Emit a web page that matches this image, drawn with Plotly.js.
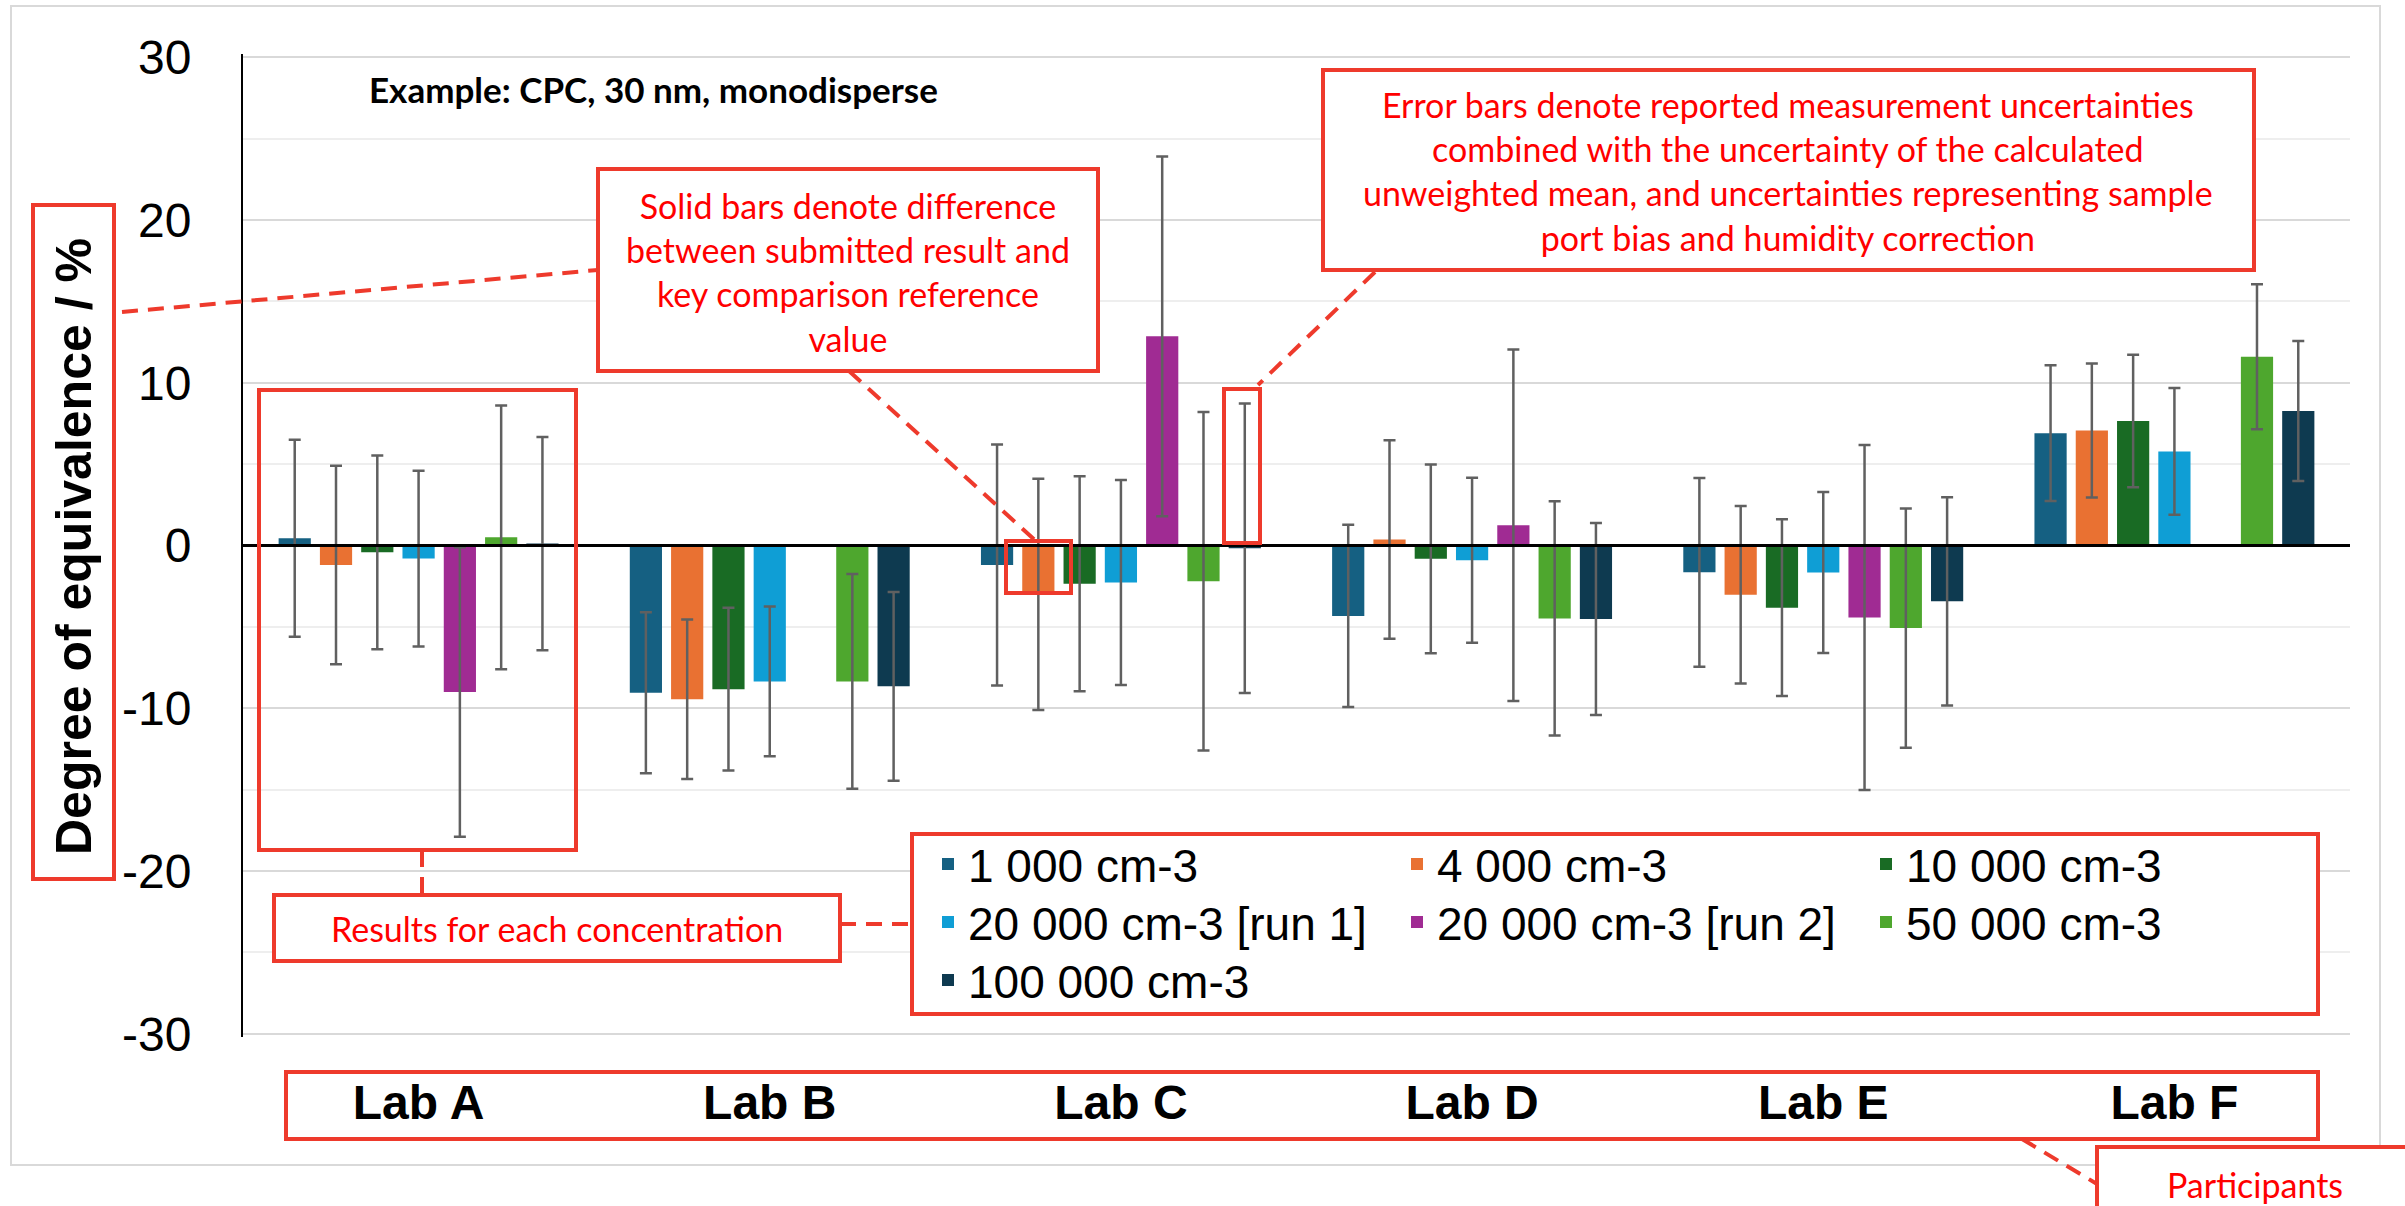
<!DOCTYPE html>
<html><head><meta charset="utf-8">
<script src="https://cdn.plot.ly/plotly-3.0.1.min.js"></script>
<style>html,body{margin:0;padding:0;background:#fff;}#chart{width:2405px;height:1206px;}</style>
</head><body><div id="chart"></div>
<script>
// ---- data ----
const labs = ['Lab A', 'Lab B', 'Lab C', 'Lab D', 'Lab E', 'Lab F'];
const seriesNames = ['1 000 cm-3', '4 000 cm-3', '10 000 cm-3', '20 000 cm-3 [run 1]', '20 000 cm-3 [run 2]', '50 000 cm-3', '100 000 cm-3'];
const seriesColors = ['#156082', '#E97132', '#196B24', '#0F9ED5', '#A02B93', '#4EA72E', '#0E3A50'];
const yTitle = 'Degree of equivalence / %';

const doe1000   = [0.45, -9.05, -1.20, -4.33, -1.65, 6.90];
const doe4000   = [-1.20, -9.45, -3.00, 0.37, -3.03, 7.07];
const doe10000  = [-0.42, -8.83, -2.35, -0.82, -3.82, 7.65];
const doe20000a = [-0.80, -8.35, -2.27, -0.91, -1.66, 5.78];
const doe20000b = [-9.00, null, 12.85, 1.25, -4.43, null];
const doe50000  = [0.50, -8.35, -2.20, -4.48, -5.07, 11.60];
const doe100000 = [0.12, -8.65, -0.17, -4.52, -3.43, 8.26];

const unc1000   = [6.05, 4.95, 7.40, 5.60, 5.80, 4.17];
const unc4000   = [6.10, 4.90, 7.10, 6.10, 5.45, 4.12];
const unc10000  = [5.95, 5.00, 6.60, 5.80, 5.43, 4.07];
const unc20000a = [5.40, 4.60, 6.30, 5.07, 4.95, 3.89];
const unc20000b = [8.90, null, 11.05, 10.80, 10.60, null];
const unc50000  = [8.10, 6.60, 10.40, 7.20, 7.35, 4.46];
const unc100000 = [6.55, 5.80, 8.90, 5.90, 6.40, 4.30];

const yTickVals = [-30, -20, -10, 0, 10, 20, 30];
const yTickText = ['-30', '-20', '-10', '0', '10', '20', '30'];
const yMinorVals = [-25, -15, -5, 5, 15, 25];

const seriesValues = [doe1000, doe4000, doe10000, doe20000a, doe20000b, doe50000, doe100000];
const seriesUnc = [unc1000, unc4000, unc10000, unc20000a, unc20000b, unc50000, unc100000];
const legendIds = ['legend', 'legend', 'legend', 'legend2', 'legend2', 'legend2', 'legend3'];

// ---- geometry helpers (pixel -> paper) ----
const W = 2405, H = 1206, ML = 243, MR = 55, MT = 54, MB = 169;
const PW = W - ML - MR, PH = H - MT - MB;
const px = x => (x - ML) / PW;
const py = y => (H - MB - y) / PH;

const RED = '#EE3A2C';
const TXT_RED = '#FF0000';
const NOTE_FONT = 'Lato, "Open Sans", sans-serif';
const MAIN_FONT = '"Liberation Sans", Arial, sans-serif';

const traces = seriesNames.map((name, i) => ({
  type: 'bar',
  name: name,
  x: labs,
  y: seriesValues[i],
  marker: {color: seriesColors[i], line: {width: 0}},
  error_y: {type: 'data', array: seriesUnc[i], visible: true, color: '#606060', thickness: 2.5, width: 6},
  legend: legendIds[i],
  hoverinfo: 'x+y+name'
}));

function rect(x0, y0, x1, y1, opts) {
  return Object.assign({type: 'rect', xref: 'paper', yref: 'paper', x0: px(x0), x1: px(x1), y0: py(y0), y1: py(y1),
    line: {color: RED, width: 4}, fillcolor: 'rgba(0,0,0,0)', layer: 'above'}, opts || {});
}
function dline(x0, y0, x1, y1) {
  return {type: 'line', xref: 'paper', yref: 'paper', x0: px(x0), x1: px(x1), y0: py(y0), y1: py(y1),
    line: {color: RED, width: 4, dash: '16px,10px'}, layer: 'above'};
}

const shapes = [
  // outer chart border
  {type: 'rect', xref: 'paper', yref: 'paper', x0: px(11), x1: px(2380), y0: py(6), y1: py(1165),
    line: {color: '#d9d9d9', width: 2}, fillcolor: 'rgba(0,0,0,0)', layer: 'below'},
  rect(33, 205, 114, 879),                       // around y title
  rect(259, 390, 576, 850),                      // around Lab A bars
  rect(1006, 541, 1071, 593),                    // Lab C orange bar
  rect(1224, 389, 1260, 543),                    // Lab C error bar
  rect(598, 169, 1098, 371, {fillcolor: '#fff'}),   // solid bars note
  rect(1323, 70, 2254, 270, {fillcolor: '#fff'}),   // error bars note
  rect(274, 895, 840, 961, {fillcolor: '#fff'}),    // results note
  rect(912, 834, 2318, 1014, {fillcolor: '#fff'}),  // legend box
  rect(286, 1072, 2318, 1139),                   // participants axis box
  rect(2097, 1147, 2450, 1260, {fillcolor: '#fff'}), // participants note
  dline(122, 312, 598, 270),
  dline(849, 371, 1036, 541),
  dline(1375, 272, 1258, 385),
  dline(422, 851, 422, 895),
  dline(840, 924, 912, 924),
  dline(2022, 1139, 2097, 1184)
];

function note(text, x, y, opts) {
  return Object.assign({text: text, xref: 'paper', yref: 'paper', x: px(x), y: py(y), xanchor: 'center', yanchor: 'middle',
    showarrow: false, align: 'center', font: {family: NOTE_FONT, size: 34, color: TXT_RED}}, opts || {});
}

const annotations = [
  // y-axis title (rotated)
  note(yTitle, 74, 547, {textangle: -90, font: {family: MAIN_FONT, size: 50, color: '#000', weight: 'bold'}}),
  note('Example: CPC, 30 nm, monodisperse', 653, 89, {font: {family: NOTE_FONT, size: 35, color: '#000', weight: 'bold'}}),
  note('Solid bars denote difference<br>between submitted result and<br>key comparison reference<br>value', 848, 272),
  note('Error bars denote reported measurement uncertainties<br>combined with the uncertainty of the calculated<br>unweighted mean, and uncertainties representing sample<br>port bias and humidity correction', 1788, 171),
  note('Results for each concentration', 557, 928),
  note('Participants', 2255, 1184)
];

const legendBase = {orientation: 'h', xanchor: 'left', yanchor: 'middle', entrywidth: 424, entrywidthmode: 'pixels',
  bgcolor: 'rgba(0,0,0,0)', borderwidth: 0, font: {family: MAIN_FONT, size: 46, color: '#000'},
  traceorder: 'normal'};

const layout = {
  width: W, height: H,
  margin: {l: ML, r: MR, t: MT, b: MB},
  paper_bgcolor: '#fff', plot_bgcolor: '#fff',
  barmode: 'group', bargap: 0.177, bargroupgap: 0.22,
  font: {family: MAIN_FONT, color: '#000'},
  showlegend: true,
  xaxis: {type: 'category', showgrid: false, showline: false, zeroline: false, ticks: '',
    tickfont: {size: 48, weight: 'bold', color: '#000'}, ticklabelstandoff: 33, fixedrange: true},
  yaxis: {range: [-30.2, 30.2], tickmode: 'array', tickvals: yTickVals, ticktext: yTickText,
    showgrid: true, gridcolor: '#d9d9d9', gridwidth: 2,
    minor: {tickmode: 'array', tickvals: yMinorVals, showgrid: true, gridcolor: '#eeeeee', gridwidth: 2, ticks: ''},
    zeroline: true, zerolinecolor: '#000', zerolinewidth: 3, zerolinelayer: 'above traces',
    showline: true, linecolor: '#000', linewidth: 2, ticks: '',
    tickfont: {size: 48, color: '#000'}, ticklabelstandoff: 40, automargin: false, fixedrange: true},
  legend: Object.assign({}, legendBase, {x: px(928), y: py(864)}),
  legend2: Object.assign({}, legendBase, {x: px(928), y: py(922)}),
  legend3: Object.assign({}, legendBase, {x: px(928), y: py(980)}),
  shapes: shapes,
  annotations: annotations
};

Plotly.newPlot('chart', traces, layout, {displayModeBar: false, staticPlot: true});
</script>
</body></html>
